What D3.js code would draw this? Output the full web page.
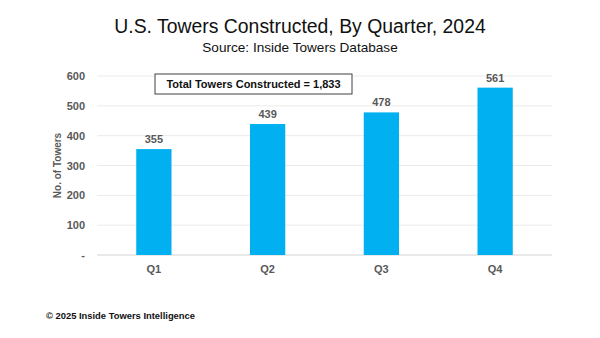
<!DOCTYPE html>
<html>
<head>
<meta charset="utf-8">
<script src="https://cdn.jsdelivr.net/npm/d3@7"></script>
<style>
  body { margin: 0; background: #fff; }
  text { font-family: "Liberation Sans", Arial, sans-serif; }
</style>
</head>
<body>
<div id="chart"></div>
<script>
// data
var quarters = ["Q1", "Q2", "Q3", "Q4"];
var towers = [355, 439, 478, 561];
var yTicks = [0, 100, 200, 300, 400, 500, 600];
var totalLabel = "Total Towers Constructed = 1,833";

var svgWidth = 600, svgHeight = 338;
var margin = { top: 76, left: 97, right: 48, bottom: 83 };
var chartWidth = svgWidth - margin.left - margin.right;
var chartHeight = svgHeight - margin.top - margin.bottom;

var svg = d3.select("#chart").append("svg")
  .attr("width", svgWidth)
  .attr("height", svgHeight);

// titles
svg.append("text")
  .attr("x", 300).attr("y", 33)
  .attr("text-anchor", "middle")
  .style("font-size", "19.4px")
  .style("fill", "#111")
  .text("U.S. Towers Constructed, By Quarter, 2024");

svg.append("text")
  .attr("x", 300).attr("y", 52)
  .attr("text-anchor", "middle")
  .style("font-size", "13.6px")
  .style("fill", "#111")
  .text("Source: Inside Towers Database");

var chartGroup = svg.append("g")
  .attr("transform", `translate(${margin.left}, ${margin.top})`);

var xScale = d3.scaleBand()
  .domain(quarters)
  .range([0, chartWidth])
  .paddingInner(0.69)
  .paddingOuter(0.345);

var yScale = d3.scaleLinear()
  .domain([0, 600])
  .range([chartHeight, 0]);

// gridlines
chartGroup.append("g")
  .selectAll("line")
  .data(yTicks)
  .enter()
  .append("line")
  .attr("x1", 0).attr("x2", chartWidth)
  .attr("y1", d => yScale(d)).attr("y2", d => yScale(d))
  .attr("stroke", d => d === 0 ? "#d4d4d4" : "#ebebeb")
  .attr("stroke-width", 1);

// y axis labels
var leftAxis = d3.axisLeft(yScale)
  .tickValues(yTicks)
  .tickSize(0)
  .tickPadding(12)
  .tickFormat(d => d === 0 ? "-" : d);

chartGroup.append("g")
  .call(leftAxis)
  .call(g => g.select(".domain").remove())
  .selectAll("text")
  .style("font-family", "'Liberation Sans', Arial, sans-serif")
  .style("font-size", "11px")
  .style("font-weight", "bold")
  .style("fill", "#595959");

// x axis labels
var bottomAxis = d3.axisBottom(xScale).tickSize(0).tickPadding(10);
chartGroup.append("g")
  .attr("transform", `translate(0, ${chartHeight})`)
  .call(bottomAxis)
  .call(g => g.select(".domain").remove())
  .selectAll("text")
  .style("font-family", "'Liberation Sans', Arial, sans-serif")
  .style("font-size", "11px")
  .style("font-weight", "bold")
  .style("fill", "#595959");

// bars
chartGroup.selectAll("rect.bar")
  .data(towers)
  .enter()
  .append("rect")
  .attr("class", "bar")
  .attr("x", (d, i) => xScale(quarters[i]))
  .attr("y", d => yScale(d))
  .attr("width", xScale.bandwidth())
  .attr("height", d => chartHeight - yScale(d))
  .attr("fill", "#00B0F0");

// value labels
chartGroup.selectAll("text.val")
  .data(towers)
  .enter()
  .append("text")
  .attr("class", "val")
  .attr("x", (d, i) => xScale(quarters[i]) + xScale.bandwidth() / 2)
  .attr("y", d => yScale(d) - 6)
  .attr("text-anchor", "middle")
  .style("font-size", "11px")
  .style("font-weight", "bold")
  .style("fill", "#595959")
  .text(d => d);

// y axis title
svg.append("text")
  .attr("transform", "rotate(-90)")
  .attr("x", -(margin.top + chartHeight / 2))
  .attr("y", 61)
  .attr("text-anchor", "middle")
  .style("font-size", "10px")
  .style("font-weight", "bold")
  .style("fill", "#595959")
  .text("No. of Towers");

// total annotation box
var note = svg.append("g").attr("transform", "translate(155, 74)");
note.append("rect")
  .attr("width", 197).attr("height", 20)
  .attr("fill", "#fff")
  .attr("stroke", "#404040")
  .attr("stroke-width", 1);
note.append("text")
  .attr("x", 98.5).attr("y", 14)
  .attr("text-anchor", "middle")
  .style("font-size", "11px")
  .style("font-weight", "bold")
  .style("fill", "#111")
  .text(totalLabel);

// footer
svg.append("text")
  .attr("x", 46).attr("y", 319)
  .style("font-size", "9.4px")
  .style("font-weight", "bold")
  .style("fill", "#111")
  .text("\u00A9 2025 Inside Towers Intelligence");
</script>
</body>
</html>
